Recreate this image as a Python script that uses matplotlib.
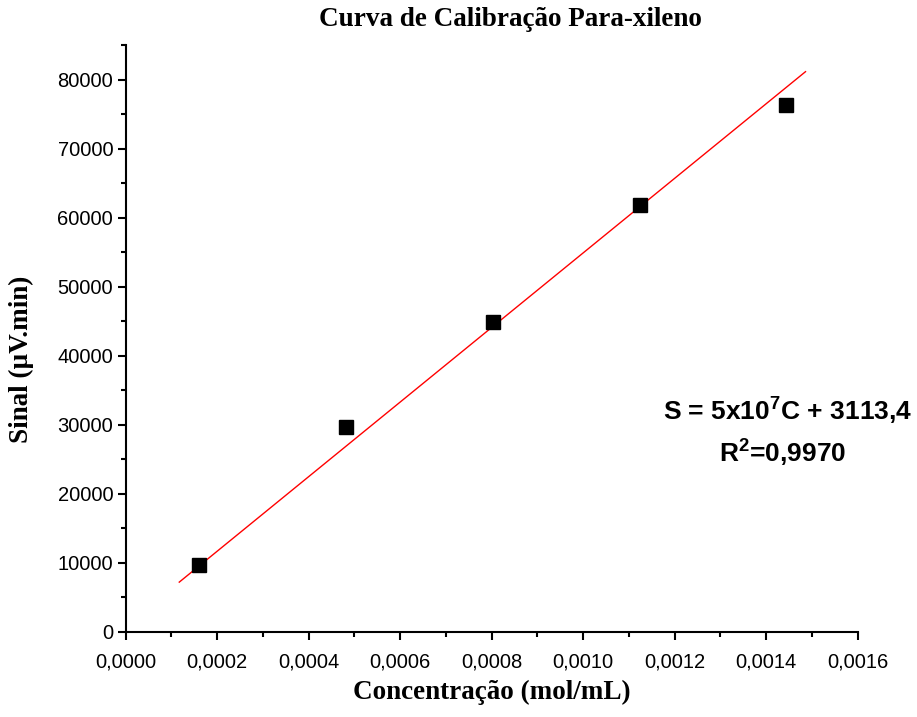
import matplotlib
matplotlib.use("Agg")
import matplotlib.pyplot as plt
from matplotlib.ticker import FuncFormatter, MultipleLocator

# Data
concentration = [0.000160, 0.000481, 0.000802, 0.001124, 0.001444]
signal = [9650, 29650, 44830, 61880, 76370]

# Ends of the drawn calibration line
fit_x = [0.0001172, 0.001486]
fit_y = [7180, 81160]

equation_text = r"S = 5x10$^\mathbf{7}$C + 3113,4"
r2_text = r"R$^\mathbf{2}$=0,9970"

plt.rcParams["mathtext.fontset"] = "custom"
plt.rcParams["mathtext.bf"] = "Liberation Sans:bold"
plt.rcParams["mathtext.rm"] = "Liberation Sans"

fig = plt.figure(figsize=(9.17, 7.17), dpi=100)
ax = fig.add_axes([0.137, 0.119, 0.7983, 0.818])

ax.plot(fit_x, fit_y, color="red", linewidth=1.0, zorder=2)
ax.plot(concentration, signal, linestyle="none", marker="s", markersize=9.5,
        color="black", zorder=3)

ax.set_xlim(0, 0.0016)
ax.set_ylim(0, 85000)

ax.xaxis.set_major_locator(MultipleLocator(0.0002))
ax.xaxis.set_minor_locator(MultipleLocator(0.0001))
ax.yaxis.set_major_locator(MultipleLocator(10000))
ax.yaxis.set_minor_locator(MultipleLocator(5000))

ax.xaxis.set_major_formatter(FuncFormatter(lambda v, p: f"{v:.4f}".replace(".", ",")))
ax.yaxis.set_major_formatter(FuncFormatter(lambda v, p: f"{v:.0f}"))

for side in ["top", "right"]:
    ax.spines[side].set_visible(False)
for side in ["left", "bottom"]:
    ax.spines[side].set_linewidth(1.5)

ax.tick_params(which="major", length=6, width=1.5, labelsize=14.5)
ax.tick_params(which="minor", length=3.5, width=1.5)
ax.tick_params(axis="x", which="major", pad=9)
ax.tick_params(axis="y", which="major", pad=3)
for lab in ax.get_xticklabels() + ax.get_yticklabels():
    lab.set_fontfamily("Liberation Sans")

ax.set_xlabel("Concentração (mol/mL)", fontfamily="Liberation Serif",
              fontweight="bold", fontsize=19.5)
ax.set_ylabel("Sinal (µV.min)", fontfamily="Liberation Serif",
              fontweight="bold", fontsize=19.5)
ax.xaxis.set_label_coords(0.5, -0.083)
ax.yaxis.set_label_coords(-0.125, 0.465)

fig.text(510 / 917, 1 - 19 / 717, "Curva de Calibração Para-xileno",
         fontfamily="Liberation Serif", fontweight="bold", fontsize=19.5,
         ha="center", va="center")

fig.text(788 / 917, 1 - 420 / 717, equation_text, fontfamily="Liberation Sans",
         fontweight="bold", fontsize=19, ha="center", va="baseline")
fig.text(783 / 917, 1 - 461.7 / 717, r2_text, fontfamily="Liberation Sans",
         fontweight="bold", fontsize=19, ha="center", va="baseline")

fig.savefig("out.png", dpi=100)
